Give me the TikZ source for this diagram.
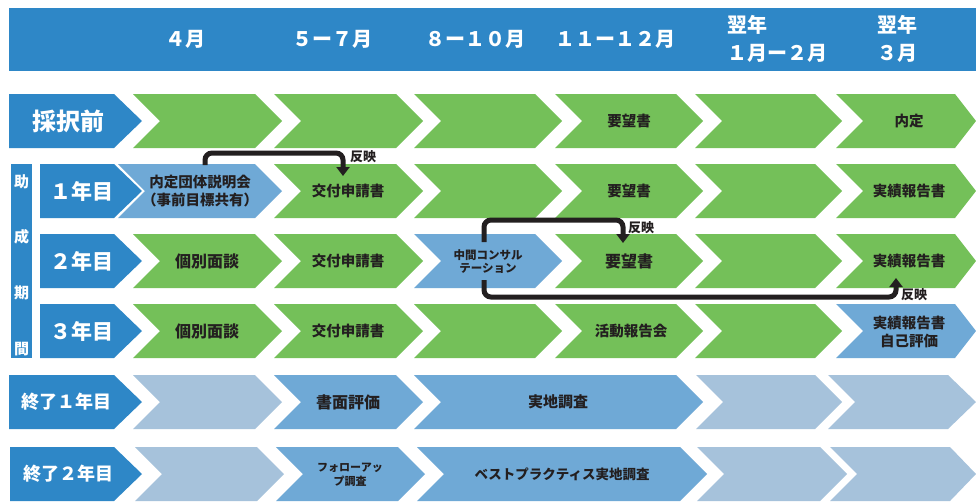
\documentclass[tikz,border=0pt]{standalone}
\usepackage{fontspec}
\setmainfont{Noto Sans CJK JP}[BoldFont={Noto Sans CJK JP Black}]
\usetikzlibrary{arrows.meta}
\definecolor{hdr}{RGB}{46,135,199}
\definecolor{cgreen}{RGB}{116,192,89}
\definecolor{clblue}{RGB}{111,169,214}
\definecolor{cpale}{RGB}{166,194,219}
\definecolor{ink}{RGB}{35,31,32}
\tikzset{
  gr/.style={fill=cgreen},
  lb/.style={fill=clblue},
  pl/.style={fill=cpale},
  lab/.style={fill=hdr},
  ht/.style={text=white,font=\bfseries\fontsize{20}{28}\selectfont,inner sep=0pt},
  lt/.style={text=white,font=\bfseries\fontsize{21}{24}\selectfont,inner sep=0pt},
  vt/.style={text=white,font=\bfseries\fontsize{15}{17}\selectfont,inner sep=0pt},
  tx/.style={text=ink,font=\bfseries\fontsize{14.5}{18}\selectfont,inner sep=0pt,align=center},
  txs/.style={text=ink,font=\bfseries\fontsize{11.5}{13}\selectfont,inner sep=0pt,align=center},
  rf/.style={text=ink,font=\bfseries\fontsize{13}{15}\selectfont,inner sep=0pt,anchor=west},
  conn/.style={draw=ink,line width=5pt,rounded corners=7pt,-{Triangle[width=13pt,length=9pt]}}
}
% chevron: x0, x1(top right), y top, tip depth, style
\newcommand{\chv}[5]{\fill[#5] (#1,#3) -- (#2,#3) -- (#2+#4,#3+27) -- (#2,#3+54) -- (#1,#3+54) -- (#1+27,#3+27) -- cycle;}
% row label: x0, y top
\newcommand{\lbl}[2]{\fill[lab] (#1,#2) -- (114,#2) -- (142,#2+27) -- (114,#2+54) -- (#1,#2+54) -- cycle;}
\begin{document}
\begin{tikzpicture}[x=1pt,y=-1pt]
\useasboundingbox[fill=white] (0,0) rectangle (976,501);
% header
\fill[lab] (9,8) rectangle (976,71);
\node[ht] (m4) at (185,39) {４月};
\node[ht] (m57) at (332,39) {５ー７月};
\node[ht] (m810) at (475,39) {８ー１０月};
\node[ht] (m1112) at (615,39) {１１ー１２月};
\node[ht,anchor=west,align=left] (m12) at (727,39) {翌年\\１月ー２月};
\node[ht,anchor=west,align=left] (m3) at (877,39) {翌年\\３月};

% row 0: 採択前
\lbl{9}{94}
\chv{133}{255}{94}{27}{gr}
\chv{274}{396}{94}{27}{gr}
\chv{414}{535}{94}{27}{gr}
\chv{555}{676}{94}{27}{gr}
\chv{695}{815}{94}{27}{gr}
\chv{836}{955}{94}{21}{gr}
\node[lt,font=\bfseries\fontsize{24}{26}\selectfont] (r0) at (68,121) {採択前};
\node[tx] (r0c4) at (629,121) {要望書};
\node[tx] (r0c6) at (909,121) {内定};

% vertical bar
\fill[lab] (11,164) rectangle (32,358);
\node[vt] (v1) at (21.5,182) {助};
\node[vt] (v2) at (21.5,237) {成};
\node[vt] (v3) at (21.5,293) {期};
\node[vt] (v4) at (21.5,349) {間};

% row 1
\lbl{40}{164}
\chv{118}{255}{164}{27}{lb}
\chv{274}{396}{164}{27}{gr}
\chv{414}{535}{164}{27}{gr}
\chv{555}{676}{164}{27}{gr}
\chv{695}{815}{164}{27}{gr}
\chv{836}{955}{164}{21}{gr}
\node[lt] (r1) at (82,191) {１年目};
\node[tx] (r1c1) at (200,191) {内定団体説明会\\（事前目標共有）};
\node[tx] (r1c2) at (348,191) {交付申請書};
\node[tx] (r1c4) at (629,191) {要望書};
\node[tx] (r1c6) at (909,191) {実績報告書};

% row 2
\lbl{40}{234}
\chv{133}{255}{234}{27}{gr}
\chv{274}{396}{234}{27}{gr}
\chv{414}{535}{234}{27}{lb}
\chv{555}{676}{234}{27}{gr}
\chv{695}{815}{234}{27}{gr}
\chv{836}{955}{234}{21}{gr}
\node[lt] (r2) at (82,261) {２年目};
\node[tx,font=\bfseries\fontsize{16}{18}\selectfont] (r2c1) at (207,261) {個別面談};
\node[tx] (r2c2) at (348,261) {交付申請書};
\node[txs] (r2c3) at (488,262) {中間コンサル\\テーション};
\node[tx,font=\bfseries\fontsize{16}{18}\selectfont] (r2c4) at (629,261) {要望書};
\node[tx] (r2c6) at (909,261) {実績報告書};

% row 3
\lbl{40}{304}
\chv{133}{255}{304}{27}{gr}
\chv{274}{396}{304}{27}{gr}
\chv{414}{535}{304}{27}{gr}
\chv{555}{676}{304}{27}{gr}
\chv{695}{815}{304}{27}{gr}
\chv{836}{955}{304}{21}{lb}
\node[lt] (r3) at (82,331) {３年目};
\node[tx,font=\bfseries\fontsize{16}{18}\selectfont] (r3c1) at (207,331) {個別面談};
\node[tx] (r3c2) at (348,331) {交付申請書};
\node[tx] (r3c4) at (631,331) {活動報告会};
\node[tx] (r3c6) at (909,332) {実績報告書\\自己評価};

% row 4: 終了1年目
\lbl{9}{375}
\chv{133}{255}{375}{27}{pl}
\chv{274}{396}{375}{27}{lb}
\chv{414}{676}{375}{27}{lb}
\chv{696}{815}{375}{27}{pl}
\chv{828}{948}{375}{28}{pl}
\node[lt,font=\bfseries\fontsize{18}{20}\selectfont] (r4) at (66,402) {終了１年目};
\node[tx,font=\bfseries\fontsize{16}{18}\selectfont] (r4c2) at (348,402) {書面評価};
\node[tx,font=\bfseries\fontsize{15}{18}\selectfont] (r4c3) at (558,402) {実地調査};

% row 5: 終了2年目
\lbl{10}{447}
\chv{135}{257}{447}{27}{pl}
\chv{276}{398}{447}{27}{lb}
\chv{417}{680}{447}{27}{lb}
\chv{697}{820}{447}{27}{pl}
\chv{830}{950}{447}{26}{pl}
\node[lt,font=\bfseries\fontsize{18}{20}\selectfont] (r5) at (68,474) {終了２年目};
\node[txs,font=\bfseries\fontsize{11}{14}\selectfont] (r5c2) at (350,475) {フォローアッ\\プ調査};
\node[tx,font=\bfseries\fontsize{13.5}{16}\selectfont] (r5c3) at (562,474) {ベストプラクティス実地調査};

% connectors
\coordinate (s1) at (205,165);
\coordinate (t1) at (343,176);
\coordinate (s2) at (484,242);
\coordinate (t2) at (623,243);
\coordinate (s3) at (484,280);
\coordinate (t3) at (896,278);
\draw[conn] (s1) -- ++(0,-12) -| (t1);
\draw[conn] (s2) -- ++(0,-22) -| (t2);
\draw[conn] (s3) -- ++(0,17) -| (t3);
\node[rf] (h1) at (350,157) {反映};
\node[rf] (h2) at (628,228) {反映};
\node[rf] (h3) at (901,295) {反映};
\end{tikzpicture}
\end{document}
